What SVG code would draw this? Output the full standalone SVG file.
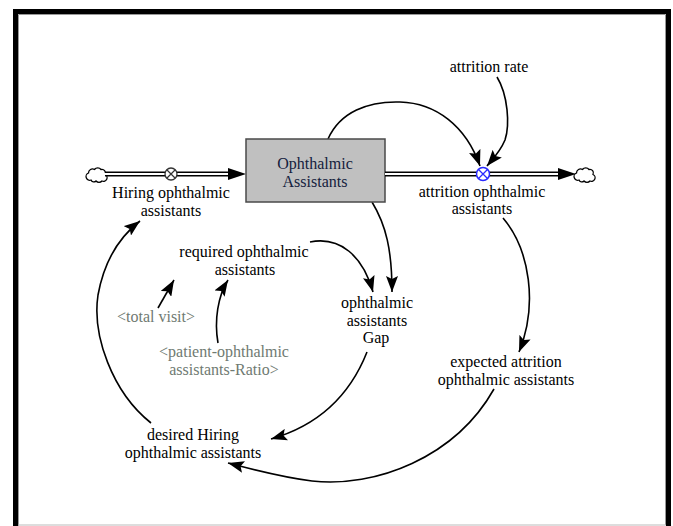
<svg xmlns="http://www.w3.org/2000/svg" width="673" height="526" viewBox="0 0 673 526">
<defs>
<marker id="ah" markerUnits="userSpaceOnUse" markerWidth="18" markerHeight="12" refX="16" refY="6" orient="auto"><path d="M0,0 L16,6 L0,12 L3,6 z" fill="#000"/></marker>
<path id="cloud" d="M-6,5 a3.5,3.5 0 0 1 -2.5,-7 a4,4 0 0 1 6,-3.5 a4,4 0 0 1 6.5,0 a3.5,3.5 0 0 1 4,5 a3.5,3.5 0 0 1 -3,6.5 a4,4 0 0 1 -6,0 a3,3 0 0 1 -5,-1 z"/>
</defs>
<style>
text{font-family:"Liberation Serif","Times New Roman",serif;font-size:16px;text-anchor:middle;fill:#000}
.shadow{fill:#6f7a72}
.stocktxt{fill:#14213d}
.link{fill:none;stroke:#000;stroke-width:1.6;marker-end:url(#ah)}
.pipeo{fill:none;stroke:#000;stroke-width:5}
.pipei{fill:none;stroke:#fff;stroke-width:2}
.cloud{fill:#fff;stroke:#000;stroke-width:1.3}
</style>
<rect width="673" height="526" fill="#fff"/>
<g id="frame">
<path d="M15.5,526 V11.5 H668.5 V526" fill="none" stroke="#000" stroke-width="5"/>
<path d="M18.5,526 V14.5 H665.5 V525" fill="none" stroke="#999" stroke-width="1"/>
<line x1="18" y1="525" x2="666" y2="525" stroke="#bbb" stroke-width="1"/>
</g>
<g id="connectors">
<path class="link" d="M328,139 C340,112 368,101 400,102 C436,103 466,126 480,166"/>
<path class="link" d="M497,77 C508,95 510,125 505,140 C500,152 492,160 487,166"/>
<path class="link" d="M372,202 C386,225 392,250 392,292"/>
<path class="link" d="M310,242 C340,236 363,256 373,292"/>
<path class="link" d="M158,308 L174,280"/>
<path class="link" d="M218,343 C214,320 218,296 228,280"/>
<path class="link" d="M367,352 C350,395 320,425 271,439"/>
<path class="link" d="M503,218 C530,250 538,305 519,352"/>
<path class="link" d="M494,389 C455,458 375,488 312,481 C280,477 255,470 228,463"/>
<path class="link" d="M151,423 C112,392 92,335 98,295 C104,262 118,238 140,221"/>
</g>
<g id="hiring-flow">
<use href="#cloud" x="97" y="175" class="cloud"/>
<path class="pipeo" d="M105,174 H230"/>
<path class="pipei" d="M104,174 H231"/>
<polygon points="228,168 246,174 228,180" fill="#000"/>
<circle cx="171" cy="174" r="6" fill="#fff" stroke="#333" stroke-width="1.3"/>
<path d="M167,170 L175,178 M175,170 L167,178" stroke="#333" stroke-width="1.2"/>
<text x="171" y="198">Hiring ophthalmic</text>
<text x="171" y="216">assistants</text>
</g>
<g id="ophthalmic-assistants">
<rect x="246" y="139" width="139" height="63" fill="#c0c0c0" stroke="#4a4a4a" stroke-width="1.5"/>
<text class="stocktxt" x="315" y="169">Ophthalmic</text>
<text class="stocktxt" x="315" y="187">Assistants</text>
</g>
<g id="attrition-flow">
<path class="pipeo" d="M385,174 H562"/>
<path class="pipei" d="M385,174 H563"/>
<polygon points="558,168 576,174 558,180" fill="#000"/>
<use href="#cloud" x="585" y="175" class="cloud"/>
<circle cx="483" cy="174" r="6.5" fill="#fff" stroke="#2a2aff" stroke-width="1.5"/>
<path d="M478.5,169.5 L487.5,178.5 M487.5,169.5 L478.5,178.5" stroke="#2a2aff" stroke-width="1.3"/>
<text x="482" y="197">attrition ophthalmic</text>
<text x="482" y="214">assistants</text>
</g>
<g id="attrition-rate"><text x="489" y="72">attrition rate</text></g>
<g id="required"><text x="244" y="257">required ophthalmic</text><text x="245" y="275">assistants</text></g>
<g id="total-visit"><text class="shadow" x="156" y="322">&lt;total visit&gt;</text></g>
<g id="ratio"><text class="shadow" x="224" y="357">&lt;patient-ophthalmic</text><text class="shadow" x="224" y="375">assistants-Ratio&gt;</text></g>
<g id="gap"><text x="377" y="308">ophthalmic</text><text x="377" y="326">assistants</text><text x="376" y="343">Gap</text></g>
<g id="expected"><text x="506" y="367">expected attrition</text><text x="506" y="385">ophthalmic assistants</text></g>
<g id="desired"><text x="193" y="440">desired Hiring</text><text x="193" y="458">ophthalmic assistants</text></g>
</svg>
